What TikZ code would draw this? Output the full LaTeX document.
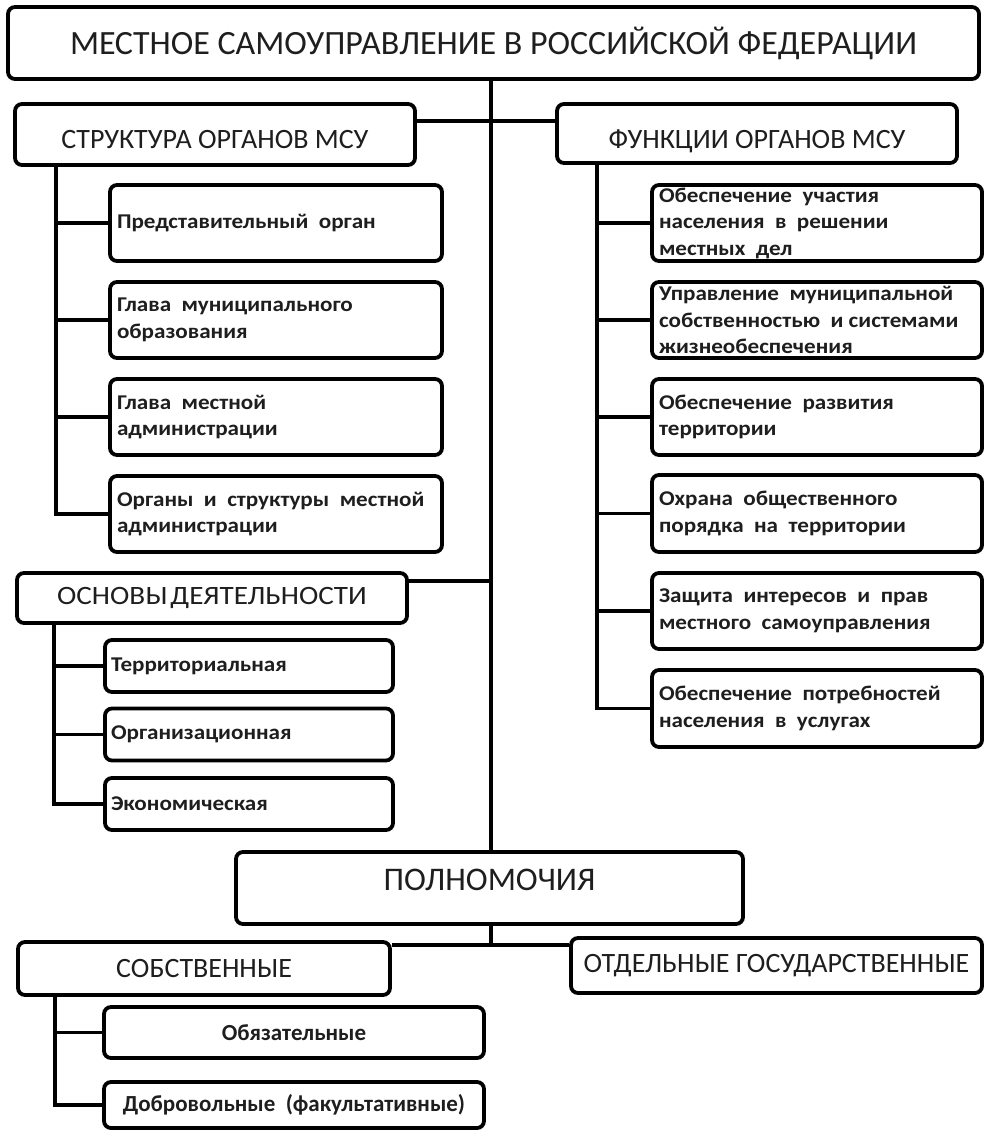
\documentclass[tikz,border=0pt]{standalone}
\usepackage{fontspec}
\setmainfont{Carlito}
\newfontfamily\widef[FakeStretch=1.1]{Carlito}
\definecolor{txt}{HTML}{1E1E1E}
\begin{document}
\begin{tikzpicture}[x=1pt,y=-1pt,
  box/.style={draw=black, line width=3.8pt, rounded corners=7pt, fill=white, text=txt, inner sep=0pt, align=center},
  head/.style={box, font=\fontsize{#1}{#1}\selectfont},
  itemL/.style={box, align=flush left, inner xsep=7pt, text width=318pt, minimum height=#1,
     font=\widef\bfseries\fontsize{21}{26.5}\selectfont},
  itemR/.style={box, align=flush left, inner xsep=7pt, text width=316pt, minimum height=#1,
     font=\widef\bfseries\fontsize{21}{26.5}\selectfont},
  itemO/.style={box, align=flush left, inner xsep=6pt, text width=276pt, minimum height=52pt,
     font=\widef\bfseries\fontsize{21}{26.5}\selectfont},
  itemS/.style={box, minimum width=380pt, minimum height=#1,
     font=\bfseries\fontsize{23}{27}\selectfont},
  conn/.style={draw=black, line width=3.8pt}
]
\useasboundingbox (0,0) rectangle (986,1131);
% top
\node[head=34, minimum width=971pt, minimum height=72pt] (top) at (493.5,43) {МЕСТНОЕ САМОУПРАВЛЕНИЕ В РОССИЙСКОЙ ФЕДЕРАЦИИ};
\node[head=28, minimum width=400pt, minimum height=61pt, text height=29pt, text depth=0pt] (struct) at (215,134.5) {СТРУКТУРА ОРГАНОВ МСУ};
\node[head=28, minimum width=400pt, minimum height=59pt, text height=30pt, text depth=0pt] (funct) at (757,133.5) {ФУНКЦИИ ОРГАНОВ МСУ};
% left items
\node[itemL=76pt] (L1) at (276,223) {Представительный\ \ орган};
\node[itemL=76pt] (L2) at (276,320) {Глава\ \ муниципального\\образования};
\node[itemL=76pt] (L3) at (276,417) {Глава\ \ местной\\администрации};
\node[itemL=76pt] (L4) at (276,514) {Органы\ \ и\ \ структуры\ \ местной\\администрации};
% right items
\node[itemR=76pt] (R1) at (817,223) {Обеспечение\ \ участия\\населения\ \ в\ \ решении\\местных\ \ дел};
\node[itemR=76pt] (R2) at (817,320) {Управление\ \ муниципальной\\собственностью\ \ и системами\\жизнеобеспечения};
\node[itemR=76pt] (R3) at (817,417) {Обеспечение\ \ развития\\территории};
\node[itemR=77pt] (R4) at (817,513.5) {Охрана\ \ общественного\\порядка\ \ на\ \ территории};
\node[itemR=76pt] (R5) at (817,611) {Защита\ \ интересов\ \ и\ \ прав\\местного\ \ самоуправления};
\node[itemR=77pt] (R6) at (817,708.5) {Обеспечение\ \ потребностей\\населения\ \ в\ \ услугах};
% osnovy
\node[box, minimum width=390pt, minimum height=50pt, font=\widef\fontsize{26.5}{26.5}\selectfont] (osn) at (212,598) {ОСНОВЫ\hspace{3pt}ДЕЯТЕЛЬНОСТИ};
\node[itemO] (O1) at (249,666) {Территориальная};
\node[itemO] (O2) at (249,734.5) {Организационная};
\node[itemO] (O3) at (249,804) {Экономическая};
% polnomochiya
\node[head=33, minimum width=507pt, minimum height=72pt, text height=21pt, text depth=16pt] (pol) at (489.5,888) {ПОЛНОМОЧИЯ};
\node[head=28, minimum width=372pt, minimum height=53pt] (sob) at (204,968.5) {СОБСТВЕННЫЕ};
\node[head=28, minimum width=411pt, minimum height=55pt] (otd) at (776.5,965.5) {ОТДЕЛЬНЫЕ ГОСУДАРСТВЕННЫЕ};
\node[itemS=51pt] (ob) at (294,1032.5) {Обязательные};
\node[itemS=46pt] (dob) at (294,1105) {Добровольные\ \ (факультативные)};
% coordinates
\coordinate (cx) at (491,0);
\coordinate (hy) at (0,121);
\coordinate (oy) at (0,581);
\coordinate (py) at (0,945);
\coordinate (lx) at (56,0);
\coordinate (rx) at (597,0);
\coordinate (ox) at (54,0);
\coordinate (sx) at (55,0);
% connectors
\draw[conn] (top.south -| cx) -- (pol.north -| cx);
\draw[conn] (struct.east |- hy) -- (funct.west |- hy);
\draw[conn] (osn.east |- oy) -- (cx |- oy);
\draw[conn] (pol.south -| cx) -- (cx |- py);
\draw[conn] (sob.east |- py) -- (otd.west |- py);
\draw[conn] (struct.south -| lx) |- (L4.west);
\foreach \n in {L1,L2,L3} \draw[conn] (lx |- \n.west) -- (\n.west);
\draw[conn] (funct.south -| rx) |- (R6.west);
\foreach \n in {R1,R2,R3,R4,R5} \draw[conn] (rx |- \n.west) -- (\n.west);
\draw[conn] (osn.south -| ox) |- (O3.west);
\foreach \n in {O1,O2} \draw[conn] (ox |- \n.west) -- (\n.west);
\draw[conn] (sob.south -| sx) |- (dob.west);
\draw[conn] (sx |- ob.west) -- (ob.west);
\end{tikzpicture}
\end{document}
